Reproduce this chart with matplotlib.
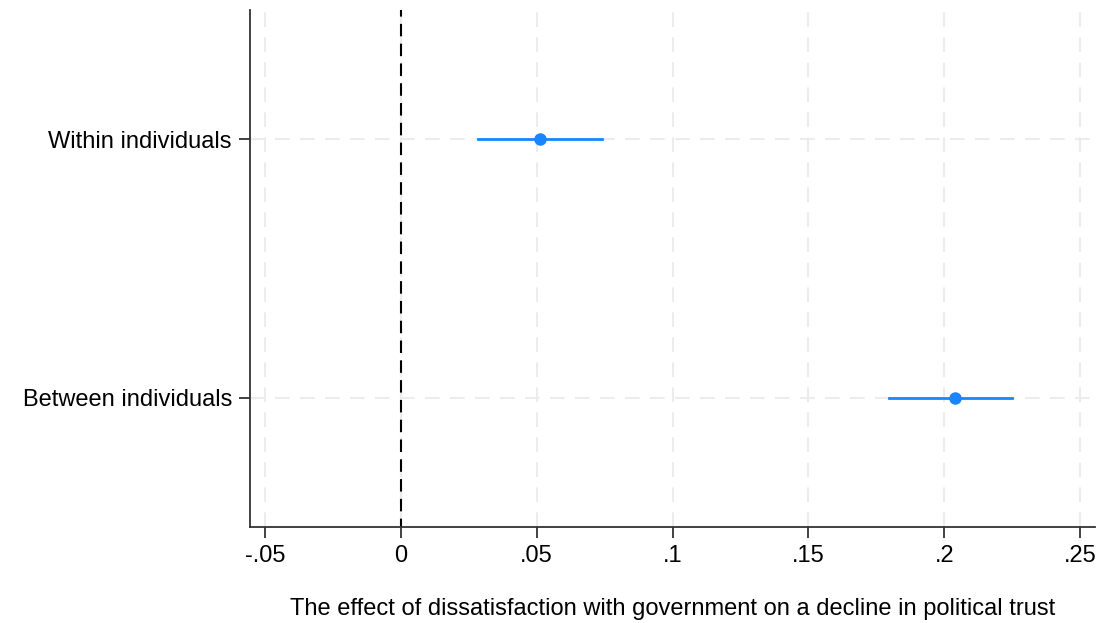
import matplotlib
matplotlib.use("Agg")
import matplotlib.pyplot as plt

# Coefficients and 95% CIs
labels = ["Within individuals", "Between individuals"]
coef = [0.0512, 0.2039]
ci_low = [0.0284, 0.1795]
ci_high = [0.0741, 0.2248]
xticks = [-0.05, 0, 0.05, 0.1, 0.15, 0.2, 0.25]
xticklabels = ["-.05", "0", ".05", ".1", ".15", ".2", ".25"]

plt.rcParams["font.family"] = ["Liberation Sans", "DejaVu Sans"]

fig = plt.figure(figsize=(11.14, 6.23), dpi=100)
ax = fig.add_axes([250 / 1114, 1 - 527 / 623, (1095 - 250) / 1114, (527 - 10) / 623])

ypos = [1, 2]
blue = "#1a85ff"

# grid
for x in xticks:
    ax.axvline(x, color="#ececec", lw=1.5, ls=(0, (7, 5)), zorder=0)
for y in ypos:
    ax.axhline(y, color="#ececec", lw=1.5, ls=(0, (7, 5)), zorder=0)

ax.axvline(0, color="black", lw=1.5, ls=(2, (6, 3.5)), zorder=1)

for y, c, lo, hi in zip(ypos, coef, ci_low, ci_high):
    ax.plot([lo, hi], [y, y], color=blue, lw=2, zorder=2)
    ax.plot(c, y, "o", color=blue, ms=8, zorder=3)

ax.set_xlim(-0.0555, 0.2555)
ax.set_ylim(2.5, 0.5)
ax.set_yticks(ypos)
ax.set_yticklabels(labels, fontsize=17)
ax.set_xticks(xticks)
ax.set_xticklabels(xticklabels, fontsize=17)
ax.tick_params(axis="both", length=8, width=1.3, color="#333333", pad=5)

ax.spines["top"].set_visible(False)
ax.spines["right"].set_visible(False)
for s in ["left", "bottom"]:
    ax.spines[s].set_color("#333333")
    ax.spines[s].set_linewidth(1.3)

ax.set_xlabel("The effect of dissatisfaction with government on a decline in political trust",
              fontsize=17, labelpad=22)

fig.savefig("out.png", dpi=100)
